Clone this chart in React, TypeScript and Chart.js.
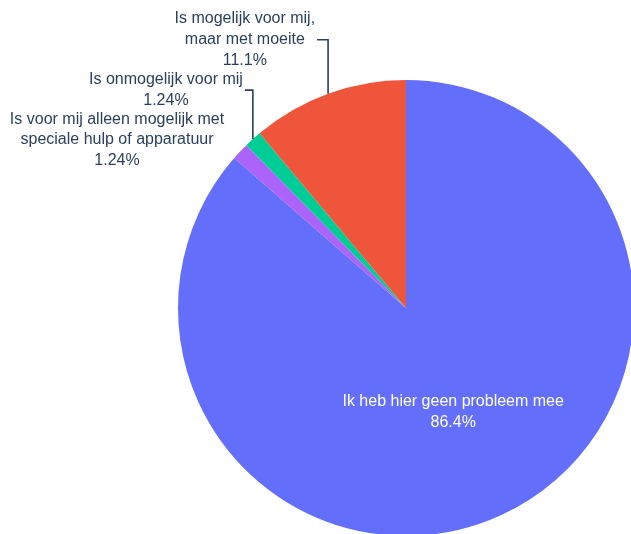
import React, { useEffect, useRef } from "react";
import { Chart, registerables } from "chart.js";

Chart.register(...registerables);

const categories = [
  "Ik heb hier geen probleem mee",
  "Is voor mij alleen mogelijk met speciale hulp of apparatuur",
  "Is onmogelijk voor mij",
  "Is mogelijk voor mij, maar met moeite",
];
const categoryLines = [
  ["Ik heb hier geen probleem mee"],
  ["Is voor mij alleen mogelijk met", "speciale hulp of apparatuur"],
  ["Is onmogelijk voor mij"],
  ["Is mogelijk voor mij,", "maar met moeite"],
];
const values = [86.4, 1.24, 1.24, 11.1];
const colors = ["#636efa", "#ab63fa", "#00cc96", "#EF553B"];

// label placement styles: inside (fraction of radius) or outside (offset from slice edge point)
const labelStyles: any[] = [
  { inside: true, frac: 0.5 },
  { inside: false, dx: -16, dy: -11.5, line: false },
  { inside: false, dx: -10, dy: -49, line: true },
  { inside: false, dx: -13, dy: -54, line: true },
];

const FONT = '16px "Liberation Sans", Arial, sans-serif';
const LINE_H = 20.8;
const TEXT_COLOR = "#2a3f5f";

const labelPlugin = {
  id: "pieLabels",
  afterDatasetsDraw(chart: any) {
    const ctx = chart.ctx;
    const meta = chart.getDatasetMeta(0);
    const data = chart.data.datasets[0].data as number[];
    const total = data.reduce((a, b) => a + b, 0);
    ctx.save();
    ctx.font = FONT;
    ctx.textBaseline = "middle";
    ctx.textAlign = "center";
    meta.data.forEach((arc: any, i: number) => {
      const p = arc.getProps(["x", "y", "startAngle", "endAngle", "outerRadius"], true);
      const mid = (p.startAngle + p.endAngle) / 2;
      const pct = ((data[i] / total) * 100).toPrecision(3) + "%";
      const lines = [...categoryLines[i], pct];
      const st = labelStyles[i];
      if (st.inside) {
        const d = p.outerRadius * st.frac;
        const cx = p.x + d * Math.cos(mid);
        const cy = p.y + d * Math.sin(mid);
        ctx.fillStyle = "#ffffff";
        const top = cy - ((lines.length - 1) * LINE_H) / 2;
        lines.forEach((l, k) => ctx.fillText(l, cx, top + k * LINE_H));
      } else {
        const ex = p.x + p.outerRadius * Math.cos(mid);
        const ey = p.y + p.outerRadius * Math.sin(mid);
        const right = ex + st.dx;
        const cy = ey + st.dy;
        const maxW = Math.max(...lines.map((l) => ctx.measureText(l).width));
        const cx = right - maxW / 2;
        ctx.fillStyle = TEXT_COLOR;
        const top = cy - ((lines.length - 1) * LINE_H) / 2;
        lines.forEach((l, k) => ctx.fillText(l, cx, top + k * LINE_H));
        if (st.line) {
          ctx.strokeStyle = TEXT_COLOR;
          ctx.lineWidth = 1.6;
          ctx.beginPath();
          ctx.moveTo(ex, ey);
          ctx.lineTo(ex, cy);
          ctx.lineTo(right + 2, cy);
          ctx.stroke();
        }
      }
    });
    ctx.restore();
  },
};

export default function App() {
  const ref = useRef<HTMLCanvasElement>(null);
  useEffect(() => {
    if (!ref.current) return;
    const chart = new Chart(ref.current, {
      type: "pie",
      data: {
        labels: categories,
        datasets: [
          {
            data: values,
            backgroundColor: colors,
            borderWidth: 0,
          },
        ],
      },
      options: {
        responsive: false,
        animation: false,
        layout: { padding: { left: 178, top: 80, right: 6, bottom: 4 } },
        plugins: {
          legend: { display: false },
          tooltip: { enabled: false },
        },
      },
      plugins: [labelPlugin],
    });
    return () => chart.destroy();
  }, []);
  return (
    <div
      style={{
        position: "fixed",
        left: 0,
        top: 0,
        width: 631,
        height: 534,
        overflow: "hidden",
        background: "#ffffff",
      }}
    >
      <canvas ref={ref} width={640} height={540} style={{ width: 640, height: 540, display: "block" }} />
    </div>
  );
}
